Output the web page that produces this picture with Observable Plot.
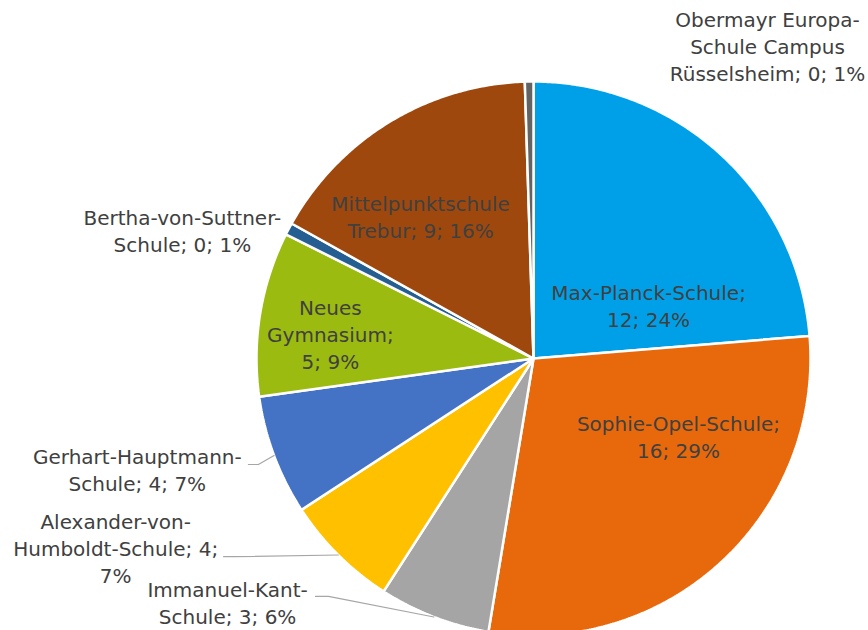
<!DOCTYPE html>
<html><head><meta charset="utf-8">
<script src="https://cdn.jsdelivr.net/npm/d3@7"></script>
<script src="https://cdn.jsdelivr.net/npm/@observablehq/plot@0.6"></script>
<style>body{margin:0;background:#fff;overflow:hidden}</style>
</head><body><div id="chart"></div>
<script>
// ---- data (clockwise from 12 o'clock) ----
const schools = ["Max-Planck-Schule","Sophie-Opel-Schule","Immanuel-Kant-Schule","Alexander-von-Humboldt-Schule","Gerhart-Hauptmann-Schule","Neues Gymnasium","Bertha-von-Suttner-Schule","Mittelpunktschule Trebur","Obermayr Europa-Schule Campus Rüsselsheim"];
const counts = [12, 16, 3, 4, 4, 5, 0, 9, 0];
const percents = ["24%", "29%", "6%", "7%", "7%", "9%", "1%", "16%", "1%"];
const shares = [23.7, 28.9, 6.5, 6.7, 7.0, 9.6, 0.7, 16.4, 0.5];
const labelLines = [
  "Max-Planck-Schule;\n12; 24%",
  "Sophie-Opel-Schule;\n16; 29%",
  "Immanuel-Kant-\nSchule; 3; 6%",
  "Alexander-von-\nHumboldt-Schule; 4;\n7%",
  "Gerhart-Hauptmann-\nSchule; 4; 7%",
  "Neues\nGymnasium;\n5; 9%",
  "Bertha-von-Suttner-\nSchule; 0; 1%",
  "Mittelpunktschule\nTrebur; 9; 16%",
  "Obermayr Europa-\nSchule Campus\nRüsselsheim; 0; 1%"
];
const colors = ["#00A0E9","#E8690C","#A5A5A5","#FFC000","#4472C4","#9BBB10","#255E91","#9E480E","#636363"];

// ---- layout (label placement, polar: angle deg clockwise from top, radius in pie radii) ----
const labelPolar = [[65.7,0.456],[118.6,0.596],[231.3,1.415],[245.4,1.659],[254.1,1.487],[276.5,0.738],[289.9,1.348],[321.3,0.652],[36.96,1.405]];
const leaderSpec = [{i:4, a:249.6, r:1.098, elbow:0.036},{i:3, a:237.4, r:1.328, elbow:0.036},{i:2, a:222.5, r:1.165, elbow:0.047}];

const rad = d => d * Math.PI / 180;
const polar = (a, r) => [r * Math.sin(rad(a)), r * Math.cos(rad(a))];

const total = d3.sum(shares);
let acc = 0;
const slices = shares.map((s, i) => {
  const a0 = acc / total * 360; acc += s; const a1 = acc / total * 360;
  return {i, name: schools[i], a0, a1, mid: (a0 + a1) / 2};
});
const slicePts = [];
for (const s of slices) {
  slicePts.push({name: s.name, x: 0, y: 0});
  const n = Math.max(2, Math.ceil((s.a1 - s.a0) / 0.5));
  for (let k = 0; k <= n; k++) {
    const [x, y] = polar(s.a0 + (s.a1 - s.a0) * k / n, 1);
    slicePts.push({name: s.name, x, y});
  }
}
const labels = slices.map((s, i) => {
  const [x, y] = polar(labelPolar[i][0], labelPolar[i][1]);
  return {x, y, text: labelLines[i]};
});
const leaderPts = [];
for (const L of leaderSpec) {
  const [x0, y0] = polar(L.a, L.r);
  const [x2, y2] = polar(slices[L.i].mid, 1);
  leaderPts.push({id: L.i, x: x0, y: y0}, {id: L.i, x: x0 + L.elbow, y: y0}, {id: L.i, x: x2, y: y2});
}

const W = 868, H = 630, cx = 533, cy = 358, R = 277;
const chart = Plot.plot({
  width: W, height: H, margin: 0,
  x: {domain: [-cx / R, (W - cx) / R], axis: null},
  y: {domain: [-(H - cy) / R, cy / R], axis: null},
  color: {domain: schools, range: colors},
  style: {fontFamily: "'DejaVu Sans', sans-serif", background: "white"},
  marks: [
    Plot.line(slicePts, {x: "x", y: "y", z: "name", fill: "name", stroke: "white", strokeWidth: 2.5, curve: "linear-closed", strokeLinejoin: "miter"}),
    Plot.line(leaderPts, {x: "x", y: "y", z: "id", stroke: "#A6A6A6", strokeWidth: 1.2}),
    Plot.text(labels, {x: "x", y: "y", text: "text", fill: "#404040", fontSize: 20, lineHeight: 1.35, lineAnchor: "middle", textAnchor: "middle", dy: -2})
  ]
});
document.getElementById("chart").append(chart);
</script>
</body></html>
